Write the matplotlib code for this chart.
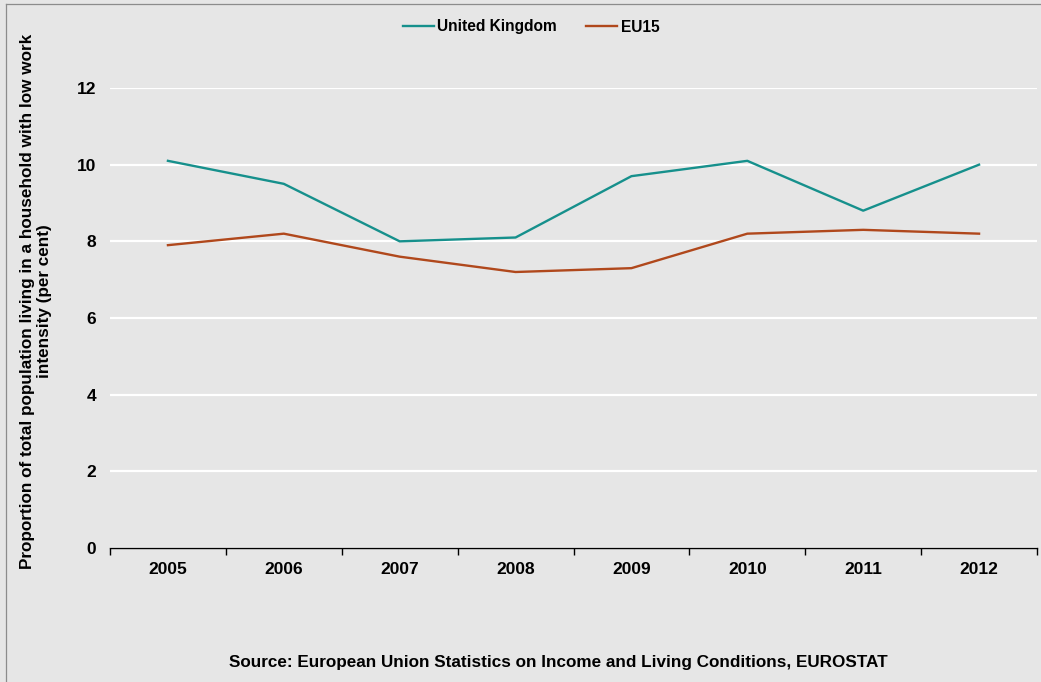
import numpy as np
import matplotlib.pyplot as plt
from matplotlib.lines import Line2D

# dados
anos = ['2005', '2006', '2007', '2008', '2009', '2010', '2011', '2012']
reino_unido = [10.1, 9.5, 8.0, 8.1, 9.7, 10.1, 8.8, 10.0]
eu15 = [7.9, 8.2, 7.6, 7.2, 7.3, 8.2, 8.3, 8.2]
y_ticks = [0, 2, 4, 6, 8, 10, 12]

plt.rcParams['font.family'] = ['Liberation Sans', 'DejaVu Sans']
plt.rcParams['font.weight'] = 'bold'

fundo = '#e6e6e6'
fig = plt.figure(figsize=(10.41, 6.82), dpi=100, facecolor=fundo)
ax = fig.add_axes([110 / 1041, 1 - 548 / 682, 927 / 1041, (548 - 88) / 682])
ax.set_facecolor(fundo)

x = np.arange(len(anos))
ax.plot(x, reino_unido, color='#16908c', lw=1.7, label='United Kingdom')
ax.plot(x, eu15, color='#b0481c', lw=1.7, label='EU15')

ax.set_xlim(-0.5, len(anos) - 0.5)
ax.set_ylim(0, 12)
ax.set_yticks(y_ticks)
ax.set_yticklabels([str(v) for v in y_ticks], fontsize=12.5, fontweight='bold')
ax.yaxis.grid(True, color='white', lw=1.6)
ax.set_axisbelow(True)
ax.tick_params(axis='y', length=0, pad=10)

# rótulos centrados nas categorias, marcas nas fronteiras
ax.set_xticks(x)
ax.set_xticklabels(anos, fontsize=12.5, fontweight='bold')
ax.set_xticks(np.arange(len(anos) + 1) - 0.5, minor=True)
ax.tick_params(axis='x', which='major', length=0, pad=10)
ax.tick_params(axis='x', which='minor', length=5, width=1, color='black')

for lado in ['top', 'right', 'left']:
    ax.spines[lado].set_visible(False)
ax.spines['bottom'].set_color('black')
ax.spines['bottom'].set_linewidth(1)

ax.set_ylabel('Proportion of total population living in a household with low work\nintensity (per cent)',
              fontsize=12.3, fontweight='bold')
ax.yaxis.set_label_coords(-58 / 927, 0.537)

fig.legend(loc='center', bbox_to_anchor=(531 / 1041, 1 - 27 / 682), ncol=2, frameon=False,
           handlelength=2.0, handletextpad=0.2, columnspacing=1.9,
           prop={'weight': 'bold', 'size': 11.2})

fig.text(558 / 1041, 1 - 662 / 682,
         'Source: European Union Statistics on Income and Living Conditions, EUROSTAT',
         ha='center', va='center', fontsize=12.3, fontweight='bold')

# moldura só à esquerda e em cima
x0 = 5.5 / 1041
y0 = 1 - 3.5 / 682
fig.lines.append(Line2D([x0, x0], [0, y0], transform=fig.transFigure, color='#8c8c8c', lw=0.9))
fig.lines.append(Line2D([x0, 1], [y0, y0], transform=fig.transFigure, color='#8c8c8c', lw=0.9))

fig.savefig('out.png', dpi=100, facecolor=fundo)
